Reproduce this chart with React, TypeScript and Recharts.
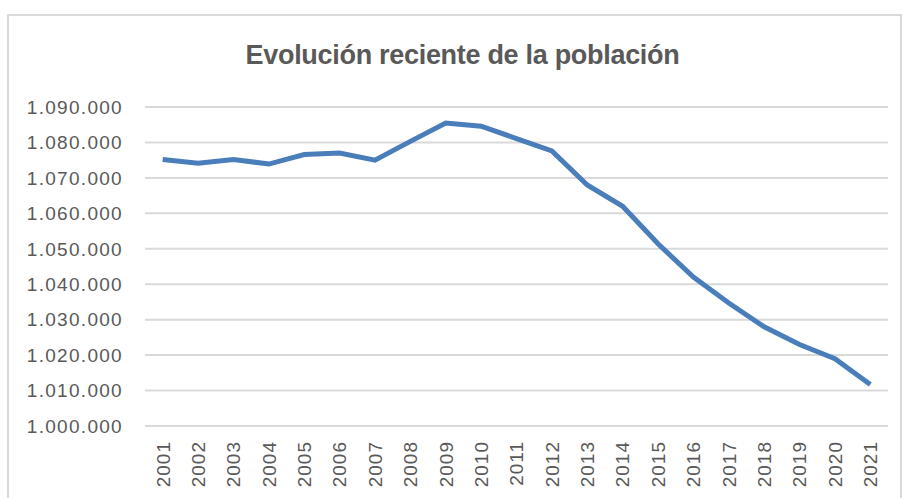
import React from 'react';
import { LineChart, Line, XAxis, YAxis, CartesianGrid } from 'recharts';

const years = ['2001', '2002', '2003', '2004', '2005', '2006', '2007', '2008', '2009', '2010', '2011',
  '2012', '2013', '2014', '2015', '2016', '2017', '2018', '2019', '2020', '2021'];

const population = [1075200, 1074100, 1075200, 1073900, 1076600, 1077000, 1075000, 1080300, 1085500, 1084600, 1081100,
  1077600, 1068000, 1062000, 1051400, 1042000, 1034700, 1028000, 1023000, 1019000, 1011700];

const yTicks = [1000000, 1010000, 1020000, 1030000, 1040000, 1050000, 1060000, 1070000, 1080000, 1090000];

const data = years.map((year, i) => ({ name: year, value: population[i] }));

const formatNumber = (value: number) => String(value).replace(/\B(?=(\d{3})+(?!\d))/g, '.');

const FONT = '"Liberation Sans", Arial, sans-serif';

const YearTick = ({ x, y, payload }: any) => (
  <g transform={`translate(${x},${y})`}>
    <text
      transform="rotate(-90)"
      x={-15}
      y={0}
      dy="0.36em"
      textAnchor="end"
      fill="#595959"
      fontSize={19}
      letterSpacing={1}
      fontFamily={FONT}
    >
      {payload.value}
    </text>
  </g>
);

export default function App() {
  return (
    <div style={{ position: 'absolute', left: 0, top: 0, width: 903, height: 498, background: '#fff', overflow: 'hidden' }}>
      <div
        style={{
          position: 'absolute',
          left: 7,
          top: 14,
          width: 895,
          height: 500,
          border: '2px solid #d9d9d9',
          boxSizing: 'border-box',
        }}
      />
      <div
        style={{
          position: 'absolute',
          left: 0,
          top: 40,
          width: 925,
          textAlign: 'center',
          fontFamily: FONT,
          fontSize: 27,
          lineHeight: '31px',
          fontWeight: 'bold',
          color: '#595959',
          letterSpacing: -0.3,
        }}
      >
        Evolución reciente de la población
      </div>
      <LineChart
        width={903}
        height={498}
        data={data}
        margin={{ top: 107, right: 15, left: 0, bottom: 0 }}
        style={{ position: 'absolute', left: 0, top: 0 }}
      >
        <CartesianGrid vertical={false} stroke="#d9d9d9" strokeWidth={2} />
        <XAxis
          dataKey="name"
          axisLine={false}
          tickLine={false}
          tickSize={0}
          tickMargin={0}
          height={72}
          interval={0}
          padding={{ left: 17.7, right: 17.7 }}
          tick={<YearTick />}
        />
        <YAxis
          domain={[1000000, 1090000]}
          ticks={yTicks}
          width={145}
          axisLine={false}
          tickLine={false}
          tickSize={0}
          tickMargin={22}
          tickFormatter={formatNumber}
          tick={{ fill: '#595959', fontSize: 19, fontFamily: FONT, letterSpacing: 1.3 }}
        />
        <Line
          type="linear"
          dataKey="value"
          stroke="#4a7ebb"
          strokeWidth={5}
          dot={false}
          isAnimationActive={false}
        />
      </LineChart>
    </div>
  );
}
